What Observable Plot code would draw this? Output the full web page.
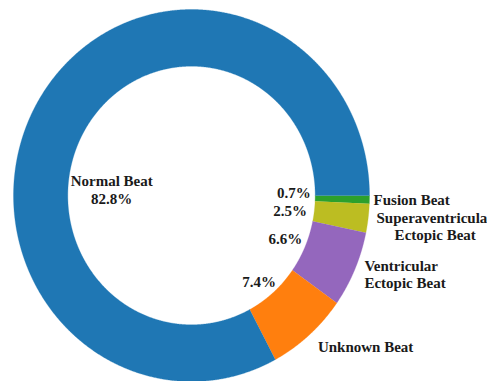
<!DOCTYPE html>
<html>
<head>
<meta charset="utf-8">
<script src="https://cdn.jsdelivr.net/npm/d3@7"></script>
<script src="https://cdn.jsdelivr.net/npm/@observablehq/plot@0.6"></script>
<style>
  html, body { margin: 0; padding: 0; background: #ffffff; }
  #chart { width: 487px; height: 381px; overflow: hidden; }
  #chart svg text { font-family: "Liberation Serif", "DejaVu Serif", serif !important; font-weight: bold; }
</style>
</head>
<body>
<div id="chart"></div>
<script>
// ---- data ----
const categories = ["Fusion Beat", "Superaventricular\nEctopic Beat", "Ventricular\nEctopic Beat", "Unknown Beat", "Normal Beat"];
const values = [0.7, 2.5, 6.6, 7.4, 82.8];
const pctLabels = ["0.7%", "2.5%", "6.6%", "7.4%", "82.8%"];
const colors = ["#2ca02c", "#bcbd22", "#9467bd", "#ff7f0e", "#1f77b4"];

// ---- layout ----
const W = 487, H = 381;
const innerR = 0.695;
const pctDist = 0.575;
const nameDist = 1.04;
const total = d3.sum(values);

// slice angles (clockwise on screen, starting at 3 o'clock)
let cum = 0;
const slices = values.map((v, i) => {
  const a0 = cum / total * 2 * Math.PI;
  cum += v;
  const a1 = cum / total * 2 * Math.PI;
  return {i, name: categories[i], pct: pctLabels[i], color: colors[i], a0, a1, mid: (a0 + a1) / 2};
});

function ringPoints(s) {
  const n = Math.max(4, Math.ceil((s.a1 - s.a0) / 0.005));
  const pts = [];
  for (let k = 0; k <= n; k++) {
    const a = s.a0 + (s.a1 - s.a0) * k / n;
    pts.push({x: Math.cos(a), y: -Math.sin(a)});
  }
  for (let k = n; k >= 0; k--) {
    const a = s.a0 + (s.a1 - s.a0) * k / n;
    pts.push({x: innerR * Math.cos(a), y: -innerR * Math.sin(a)});
  }
  return pts;
}

// label placement tweaks (pixels)
const pctTweak = [[0, -5], [-3, 2], [0, 0], [0, 6], [8, 49]];
const nameTweak = [
  {anchor: "start", dx: -3, dy: 0},
  {anchor: "middle", dx: 60, dy: 7},
  {anchor: "start", dx: 3, dy: 2},
  {anchor: "start", dx: 4, dy: 6}
];

const pctData = slices.map(s => ({
  x: pctDist * Math.cos(s.mid),
  y: -pctDist * Math.sin(s.mid),
  text: s.i === 4 ? "Normal Beat\n" + s.pct : s.pct,
  dx: pctTweak[s.i][0],
  dy: pctTweak[s.i][1]
}));

const nameData = slices.filter(s => s.i < 4).map(s => ({
  x: nameDist * Math.cos(s.mid),
  y: -nameDist * Math.sin(s.mid),
  text: s.name,
  ...nameTweak[s.i]
}));

const font = {fontFamily: "Liberation Serif", fontWeight: "bold", fontSize: 15, fill: "#1a1a1a", lineHeight: 1.15};

const marks = [
  ...slices.map(s => Plot.line(ringPoints(s), {x: "x", y: "y", fill: s.color, stroke: s.color, strokeWidth: 0.3, curve: "linear"})),
  ...pctData.map(d => Plot.text([d], {x: "x", y: "y", text: "text", textAnchor: "middle", dx: d.dx, dy: d.dy, ...font})),
  ...nameData.map(d => Plot.text([d], {x: "x", y: "y", text: "text", textAnchor: d.anchor, dx: d.dx, dy: d.dy, ...font}))
];

const chart = Plot.plot({
  width: W,
  height: H,
  marginLeft: 13,
  marginRight: 118,
  marginTop: 9,
  marginBottom: 0,
  x: {domain: [-1, 1], axis: null},
  y: {domain: [-1, 1], axis: null},
  style: {background: "#ffffff", overflow: "hidden", fontFamily: "Liberation Serif"},
  marks
});
document.getElementById("chart").appendChild(chart);
</script>
</body>
</html>
